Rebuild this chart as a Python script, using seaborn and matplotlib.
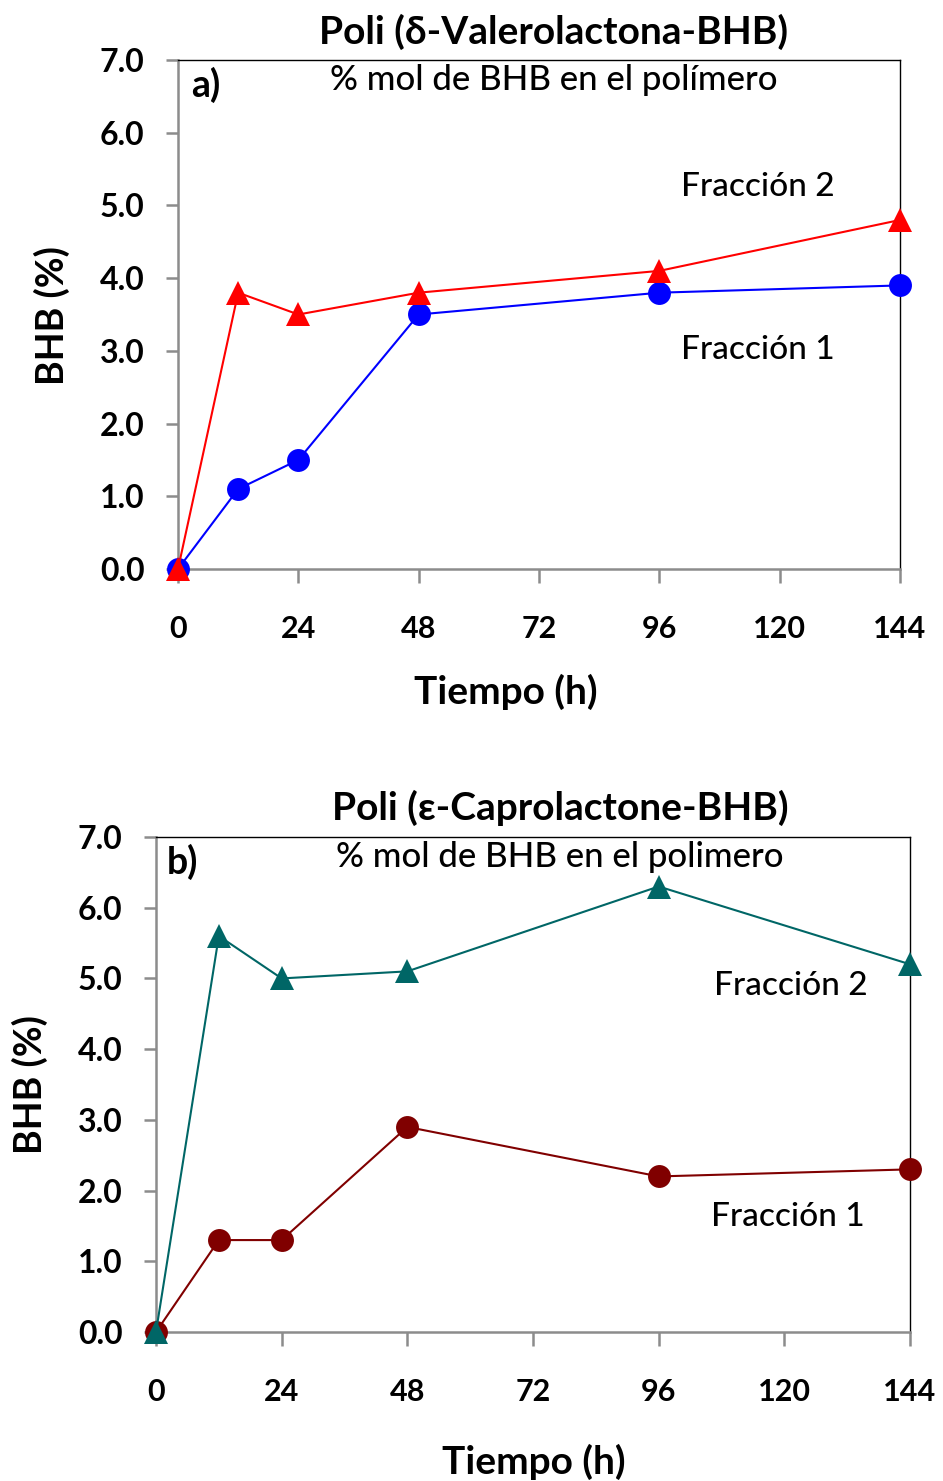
import matplotlib
matplotlib.use("Agg")
import matplotlib.pyplot as plt
import seaborn as sns
import pandas as pd

# ---- data ----
tiempo = [0, 12, 24, 48, 96, 144]
val_frac1 = [0.0, 1.1, 1.5, 3.5, 3.8, 3.9]
val_frac2 = [0.0, 3.8, 3.5, 3.8, 4.1, 4.8]
cap_frac1 = [0.0, 1.3, 1.3, 2.9, 2.2, 2.3]
cap_frac2 = [0.0, 5.6, 5.0, 5.1, 6.3, 5.2]
xticks = [0, 24, 48, 72, 96, 120, 144]
yticks = [0.0, 1.0, 2.0, 3.0, 4.0, 5.0, 6.0, 7.0]
ytick_labels = [f"{v:.1f}" for v in yticks]
title_a = "Poli (δ-Valerolactona-BHB)"
title_b = "Poli (ε-Caprolactone-BHB)"
sub_a = "% mol de BHB en el polímero"
sub_b = "% mol de BHB en el polimero"

sns.set_theme(style="white")
plt.rcParams['font.family'] = ['Lato', 'DejaVu Sans']
plt.rcParams['text.color'] = 'black'
plt.rcParams['axes.labelcolor'] = 'black'
plt.rcParams['xtick.labelcolor'] = 'black'
plt.rcParams['ytick.labelcolor'] = 'black'

W, H = 943, 1481
fig = plt.figure(figsize=(W / 100, H / 100), dpi=100)

def px_axes(l, r, t, b):
    return fig.add_axes([l / W, 1 - b / H, (r - l) / W, (b - t) / H])

ax1 = px_axes(178, 900, 60, 569)
ax2 = px_axes(156, 910, 837, 1332)

def style(ax):
    ax.set_xlim(0, 144)
    ax.set_ylim(0, 7)
    ax.set_xticks(xticks)
    ax.set_xticklabels([str(t) for t in xticks], fontsize=22, fontweight='bold')
    ax.set_yticks(yticks)
    ax.set_yticklabels(ytick_labels, fontsize=23, fontweight='bold')
    for s in ['top', 'right']:
        ax.spines[s].set_color('black')
        ax.spines[s].set_linewidth(1.0)
    for s in ['left', 'bottom']:
        ax.spines[s].set_color('#8c8c8c')
        ax.spines[s].set_linewidth(1.8)
    ax.tick_params(axis='y', which='major', direction='out', length=9, width=1.8,
                   color='#8c8c8c', labelcolor='black', pad=15, left=True)
    ax.tick_params(axis='x', which='major', direction='out', length=10, width=1.8,
                   color='#8c8c8c', labelcolor='black', pad=23, bottom=True)
    ax.set_xlabel("Tiempo (h)", fontsize=28, fontweight='bold', color='black')
    ax.set_ylabel("BHB (%)", fontsize=27, fontweight='bold', color='black')
    ax.xaxis.label.set_va('center')
    ax.yaxis.label.set_va('center')
    ax.yaxis.label.set_ha('center')
    if ax.get_legend() is not None:
        ax.get_legend().remove()

df_a1 = pd.DataFrame({"t": tiempo, "v": val_frac1})
df_a2 = pd.DataFrame({"t": tiempo, "v": val_frac2})
df_b1 = pd.DataFrame({"t": tiempo, "v": cap_frac1})
df_b2 = pd.DataFrame({"t": tiempo, "v": cap_frac2})

sns.lineplot(data=df_a1, x="t", y="v", ax=ax1, color="#0000ff", marker="o",
             markersize=16.5, markeredgewidth=0, linewidth=1.5, clip_on=False, zorder=3)
sns.lineplot(data=df_a2, x="t", y="v", ax=ax1, color="#ff0000", marker="^",
             markersize=17.5, markeredgewidth=0, linewidth=1.5, clip_on=False, zorder=4)
sns.lineplot(data=df_b1, x="t", y="v", ax=ax2, color="#800000", marker="o",
             markersize=16.5, markeredgewidth=0, linewidth=1.5, clip_on=False, zorder=3)
sns.lineplot(data=df_b2, x="t", y="v", ax=ax2, color="#006666", marker="^",
             markersize=17.5, markeredgewidth=0, linewidth=1.5, clip_on=False, zorder=4)

style(ax1)
style(ax2)
ax1.xaxis.set_label_coords((506 - 178) / 722, -(692 - 569) / 509)
ax2.xaxis.set_label_coords((534 - 156) / 754, -(1462 - 1332) / 495)
ax1.yaxis.set_label_coords((52 - 178) / 722, (569 - 316) / 509)
ax2.yaxis.set_label_coords((30 - 156) / 754, (1332 - 1085) / 495)

def fig_txt(x, y, s, size=24, weight='medium'):
    fig.text(x / W, 1 - y / H, s, ha='center', va='center', fontsize=size,
             fontweight=weight, color='black')

# titles
fig_txt(554, 32, title_a, 28, 'bold')
fig_txt(560, 808, title_b, 28, 'bold')

# inner annotations
fig_txt(206, 85, "a)", 27, 'bold')
fig_txt(182, 862, "b)", 27, 'bold')
fig_txt(554, 80, sub_a, 25)
fig_txt(758, 187, "Fracción 2")
fig_txt(758, 350, "Fracción 1")
fig_txt(560, 857, sub_b, 25)
fig_txt(791, 986, "Fracción 2")
fig_txt(788, 1217, "Fracción 1")

fig.savefig("out.png", dpi=100)
